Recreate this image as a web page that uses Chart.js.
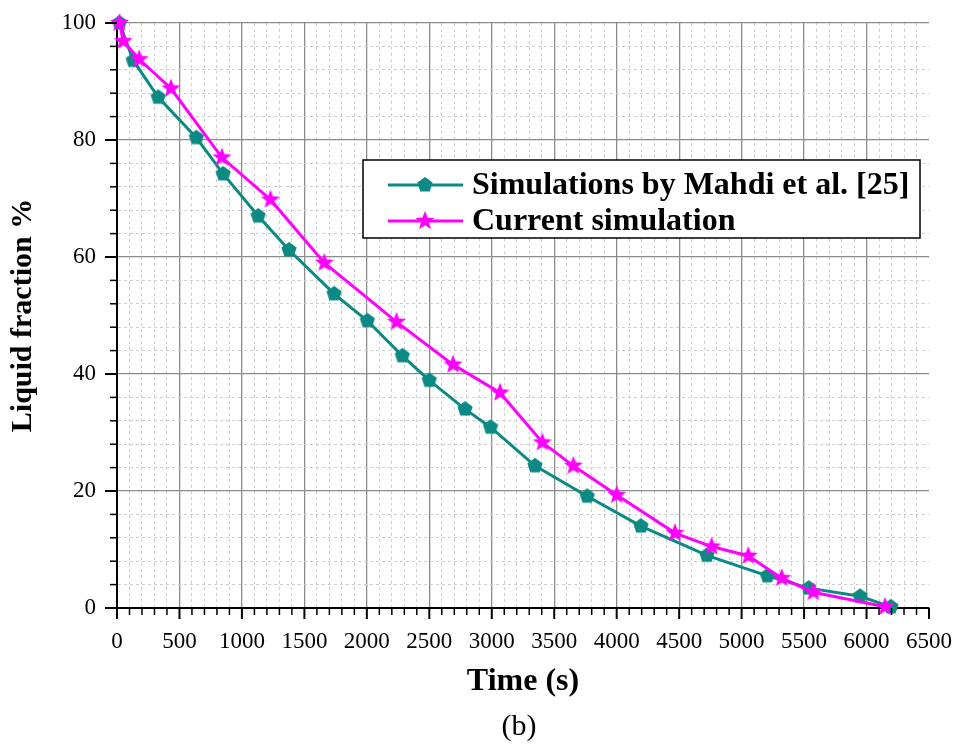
<!DOCTYPE html>
<html>
<head>
<meta charset="utf-8">
<script src="https://cdn.jsdelivr.net/npm/chart.js@4.4.1/dist/chart.umd.min.js"></script>
<style>
  html,body{margin:0;padding:0;background:#fff}
  canvas{display:block}
</style>
</head>
<body>
<canvas id="chart" width="959" height="744"></canvas>
<script>
// values
const timeMahdi   = [20, 130, 330, 635, 850, 1130, 1377, 1738, 2004, 2284, 2500, 2786, 2990, 3346, 3764, 4194, 4722, 5206, 5537, 5948, 6195];
const liquidMahdi = [100, 93.6, 87.3, 80.4, 74.2, 67.0, 61.2, 53.7, 49.1, 43.1, 38.9, 34.0, 30.9, 24.3, 19.1, 14.0, 9.0, 5.5, 3.4, 2.0, 0.2];

const timeCurrent   = [20, 50, 178, 432, 840, 1228, 1660, 2237, 2690, 3066, 3405, 3653, 4000, 4467, 4760, 5054, 5321, 5574, 6148];
const liquidCurrent = [100, 96.9, 93.8, 88.8, 77.0, 69.8, 59.0, 48.9, 41.6, 36.8, 28.3, 24.3, 19.3, 12.8, 10.5, 8.9, 5.1, 2.7, 0.2];

const seriesLabels = ['Simulations by Mahdi et al. [25]', 'Current simulation'];
const xTitle = 'Time (s)';
const yTitle = 'Liquid fraction %';
const panelLabel = '(b)';

const TEAL = '#0a8a82';
const MAGENTA = '#ff00ff';
const SERIF = '"Liberation Serif", "Times New Roman", serif';

function makePentagon(r, color){
  const c = document.createElement('canvas');
  const s = Math.ceil(r*2 + 2);
  c.width = c.height = s;
  const g = c.getContext('2d');
  g.beginPath();
  for(let i=0;i<5;i++){
    const a = -Math.PI/2 + i*2*Math.PI/5;
    const px = s/2 + r*Math.cos(a), py = s/2 + r*Math.sin(a);
    i ? g.lineTo(px,py) : g.moveTo(px,py);
  }
  g.closePath();
  g.fillStyle = color;
  g.fill();
  return c;
}

function makeStar(ro, ri, color){
  const c = document.createElement('canvas');
  const s = Math.ceil(ro*2 + 2);
  c.width = c.height = s;
  const g = c.getContext('2d');
  g.beginPath();
  for(let i=0;i<10;i++){
    const r = i%2 ? ri : ro;
    const a = -Math.PI/2 + i*Math.PI/5;
    const px = s/2 + r*Math.cos(a), py = s/2 + r*Math.sin(a);
    i ? g.lineTo(px,py) : g.moveTo(px,py);
  }
  g.closePath();
  g.fillStyle = color;
  g.fill();
  return c;
}

const pentagon = makePentagon(8, TEAL);
const star = makeStar(10, 4.3, MAGENTA);

const isMajorX = v => Math.round(v) % 500 === 0;
const isMajorY = v => Math.round(v) % 20 === 0;

// minor/major tick marks outside the axes
const axisTicks = {
  id:'axisTicks',
  afterDraw(chart){
    const {ctx, chartArea:a, scales:{x, y}} = chart;
    ctx.save();
    ctx.strokeStyle = '#000';
    x.ticks.forEach(t => {
      const px = x.getPixelForValue(t.value);
      const major = isMajorX(t.value);
      ctx.lineWidth = major ? 2 : 1.5;
      ctx.beginPath();
      ctx.moveTo(px, a.bottom);
      ctx.lineTo(px, a.bottom + (major ? 11 : 7));
      ctx.stroke();
    });
    y.ticks.forEach(t => {
      const py = y.getPixelForValue(t.value);
      const major = isMajorY(t.value);
      ctx.lineWidth = major ? 2 : 1.5;
      ctx.beginPath();
      ctx.moveTo(a.left, py);
      ctx.lineTo(a.left - (major ? 12 : 7), py);
      ctx.stroke();
    });
    ctx.restore();
  }
};

// boxed legend inside the plot + panel label
const boxLegend = {
  id:'boxLegend',
  afterDraw(chart){
    const {ctx, chartArea:a} = chart;
    const bx = a.left + 246, by = a.top + 137, bw = 557, bh = 78;
    ctx.save();
    ctx.fillStyle = '#fff';
    ctx.fillRect(bx, by, bw, bh);
    ctx.strokeStyle = '#000';
    ctx.lineWidth = 1.5;
    ctx.strokeRect(bx, by, bw, bh);
    const rows = [
      {label:seriesLabels[0], color:TEAL, img:pentagon, y:by + 25},
      {label:seriesLabels[1], color:MAGENTA, img:star, y:by + 61}
    ];
    ctx.font = 'bold 32px ' + SERIF;
    ctx.textBaseline = 'middle';
    ctx.textAlign = 'left';
    rows.forEach(r => {
      ctx.strokeStyle = r.color;
      ctx.lineWidth = 3;
      ctx.beginPath();
      ctx.moveTo(bx + 25, r.y);
      ctx.lineTo(bx + 100, r.y);
      ctx.stroke();
      ctx.drawImage(r.img, bx + 62 - r.img.width/2, r.y - r.img.height/2);
      ctx.fillStyle = '#000';
      ctx.fillText(r.label, bx + 109, r.y + 1);
    });
    ctx.font = '30px ' + SERIF;
    ctx.textAlign = 'center';
    ctx.fillText(panelLabel, (a.left + a.right)/2 - 4, 727);
    ctx.restore();
  }
};

const toPoints = (xs, ys) => xs.map((v,i) => ({x:v, y:ys[i]}));

new Chart(document.getElementById('chart'), {
  type:'line',
  data:{
    datasets:[
      {
        label:seriesLabels[0],
        data:toPoints(timeMahdi, liquidMahdi),
        borderColor:TEAL, backgroundColor:TEAL,
        borderWidth:3, pointStyle:pentagon, pointRadius:8,
        tension:0, clip:false, order:2
      },
      {
        label:seriesLabels[1],
        data:toPoints(timeCurrent, liquidCurrent),
        borderColor:MAGENTA, backgroundColor:MAGENTA,
        borderWidth:3, pointStyle:star, pointRadius:10,
        tension:0, clip:false, order:1
      }
    ]
  },
  options:{
    responsive:false,
    animation:false,
    layout:{ padding:{ top:23, right:30, bottom:43, left:0 } },
    plugins:{ legend:{display:false}, tooltip:{enabled:false} },
    scales:{
      x:{
        type:'linear', min:0, max:6500,
        afterFit:s => { s.height = 93; s.paddingLeft = 0; s.paddingRight = 0; },
        ticks:{
          stepSize:100, autoSkip:false, minRotation:0, maxRotation:0,
          padding:20, color:'#000',
          font:{ family:SERIF, size:23 },
          callback:v => isMajorX(v) ? v : ''
        },
        grid:{
          drawTicks:false,
          color:c => (c.tick && c.tick.value === 6500) ? 'rgba(0,0,0,0)' : (c.tick && isMajorX(c.tick.value) ? '#8c8c8c' : '#cfcfcf'),
          lineWidth:c => (c.tick && isMajorX(c.tick.value)) ? 1.3 : 1
        },
        border:{ color:'#000', width:2, dash:c => (c.tick && !isMajorX(c.tick.value)) ? [3,3] : [] },
        title:{ display:true, text:xTitle, color:'#000', padding:0, font:{ family:SERIF, size:32, weight:'bold' } }
      },
      y:{
        min:0, max:100,
        afterFit:s => { s.width = 117; s.paddingTop = 0; s.paddingBottom = 0; },
        ticks:{
          stepSize:4, autoSkip:false, padding:21, color:'#000',
          font:{ family:SERIF, size:23 },
          callback:v => isMajorY(v) ? v : ''
        },
        grid:{
          drawTicks:false,
          color:c => (c.tick && isMajorY(c.tick.value)) ? '#8c8c8c' : '#cfcfcf',
          lineWidth:c => (c.tick && isMajorY(c.tick.value)) ? 1.3 : 1
        },
        border:{ color:'#000', width:2, dash:c => (c.tick && !isMajorY(c.tick.value)) ? [3,3] : [] },
        title:{ display:true, text:yTitle, color:'#000', padding:{top:5, bottom:0}, font:{ family:SERIF, size:30, weight:'bold' } }
      }
    }
  },
  plugins:[axisTicks, boxLegend]
});
</script>
</body>
</html>
